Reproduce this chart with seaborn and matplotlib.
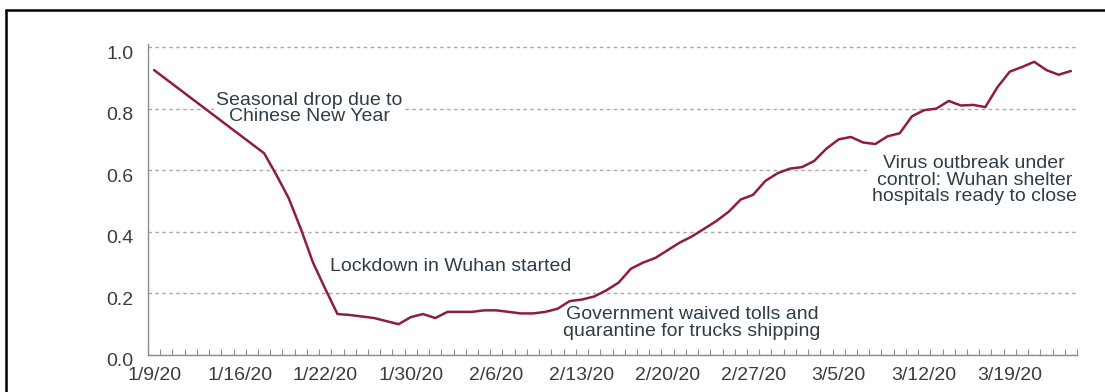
import numpy as np
import pandas as pd
import matplotlib.pyplot as plt
import matplotlib.transforms as mtransforms
from matplotlib.lines import Line2D
import seaborn as sns

# ==================== 0. 数据 ====================
# 每个类别一天，共 76 个点
values = [0.925, 0.895, 0.865, 0.835, 0.805, 0.775, 0.745, 0.715, 0.685, 0.655,
          0.585, 0.51, 0.41, 0.30, 0.215, 0.133, 0.13, 0.125, 0.12, 0.11,
          0.10, 0.123, 0.133, 0.12, 0.14, 0.14, 0.14, 0.145, 0.145, 0.14,
          0.135, 0.135, 0.14, 0.15, 0.175, 0.18, 0.19, 0.21, 0.235, 0.28,
          0.30, 0.315, 0.34, 0.365, 0.385, 0.41, 0.435, 0.465, 0.505, 0.52,
          0.565, 0.59, 0.605, 0.61, 0.63, 0.67, 0.70, 0.708, 0.69, 0.685,
          0.71, 0.72, 0.775, 0.795, 0.80, 0.825, 0.81, 0.812, 0.805, 0.87,
          0.92, 0.935, 0.952, 0.925, 0.91, 0.922]
tick_labels = ['1/9/20', '1/16/20', '1/22/20', '1/30/20', '2/6/20', '2/13/20',
               '2/20/20', '2/27/20', '3/5/20', '3/12/20', '3/19/20']
y_ticks = [0.0, 0.2, 0.4, 0.6, 0.8, 1.0]
label_step = 7   # 每 7 个类别标一个日期

note_seasonal = 'Seasonal drop due to\nChinese New Year'
note_lockdown = 'Lockdown in Wuhan started'
note_tolls = 'Government waived tolls and\nquarantine for trucks shipping'
note_control = 'Virus outbreak under\ncontrol: Wuhan shelter\nhospitals ready to close'

df = pd.DataFrame({'day': np.arange(len(values)), 'ratio': values})

# ==================== 1. 样式 ====================
sns.set_theme(style='white')
plt.rcParams['font.family'] = ['Liberation Sans', 'DejaVu Sans']

W, H = 1105, 392
fig = plt.figure(figsize=(W / 100, H / 100), dpi=100)
y_top = 1.01
ax = fig.add_axes([148 / W, 1 - 355 / H, (1077 - 148) / W, (y_top * 308) / H])

LINE_C = '#8e1d3f'
TEXT_C = '#2e3d48'
AXIS_C = '#8c8c8c'
LABEL_C = '#3c3c3c'

# ==================== 2. 折线 ====================
sns.lineplot(data=df, x='day', y='ratio', color=LINE_C, linewidth=1.8, ax=ax, zorder=3)

ax.set_xlim(-0.5, len(values) - 0.5)
ax.set_ylim(0, y_top)
ax.set_xlabel('')
ax.set_ylabel('')

# y 轴：虚线网格，标签略微下移
ax.set_yticks(y_ticks)
ax.set_yticklabels([f'{v:.1f}' for v in y_ticks])
ax.yaxis.grid(True, linestyle=(0, (2.5, 2.5)), color='#a8a8a8', linewidth=1)
ax.xaxis.grid(False)
ax.tick_params(axis='y', length=0, pad=10.5, labelsize=14, labelcolor=LABEL_C)
shift = mtransforms.ScaledTranslation(0, -0.05, fig.dpi_scale_trans)
for lab in ax.get_yticklabels():
    lab.set_transform(lab.get_transform() + shift)

# x 轴：每天一个小刻度，每 7 天一个标签
ax.set_xticks(np.arange(0, len(values), label_step)[:len(tick_labels)])
ax.set_xticklabels(tick_labels)
ax.set_xticks(np.arange(-0.5, len(values)), minor=True)
ax.tick_params(axis='x', which='major', length=0, pad=9, labelsize=14, labelcolor=LABEL_C)
ax.tick_params(axis='x', which='minor', direction='in', length=4, width=0.8,
               color=AXIS_C, bottom=True)

for side in ['top', 'right']:
    ax.spines[side].set_visible(False)
for side in ['left', 'bottom']:
    ax.spines[side].set_color(AXIS_C)
    ax.spines[side].set_linewidth(1)

# ==================== 3. 注释文字 ====================
box = dict(facecolor='white', edgecolor='none', pad=0.5)
kw = dict(fontsize=14, color=TEXT_C, linespacing=0.95, zorder=2.5, bbox=box)
ax.text(12.7, 0.80, note_seasonal, ha='center', va='center', **kw)
ax.text(14.4, 0.286, note_lockdown, ha='left', va='center', **kw)
ax.text(44.0, 0.104, note_tolls, ha='center', va='center', **kw)
ax.text(67.1, 0.568, note_control, ha='center', va='center', **kw)

# ==================== 4. 外框（上、左） ====================
fig.add_artist(Line2D([6 / W, 1], [1 - 10 / H, 1 - 10 / H], transform=fig.transFigure,
                      color='black', linewidth=1.8))
fig.add_artist(Line2D([6 / W, 6 / W], [0, 1 - 10 / H], transform=fig.transFigure,
                      color='black', linewidth=1.8))

fig.savefig('out.png', dpi=100)
